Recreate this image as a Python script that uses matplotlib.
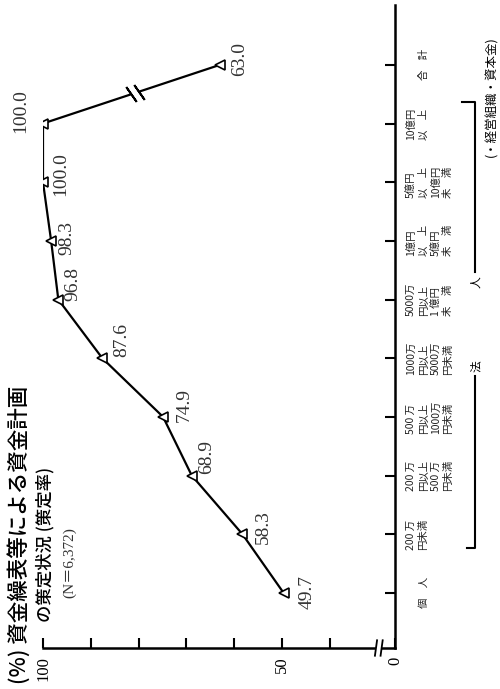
import numpy as np
import matplotlib.pyplot as plt
from matplotlib.lines import Line2D

# 経営組織・資本金別 資金計画の策定率 (%)
cat_labels = [
    '\n個　人',
    '200 万\n円未満',
    '200 万\n円以上\n500 万\n円未満',
    '500 万\n円以上\n1000万\n円未満',
    '1000万\n円以上\n5000万\n円未満',
    '5000万\n円以上\n1 億円\n未　満',
    '1億円\n以　上\n5億円\n未　満',
    '5億円\n以　上\n10億円\n未　満',
    '10億円\n以　上',
    '\n合　計',
]
rate = [49.7, 58.3, 68.9, 74.9, 87.6, 96.8, 98.3, 100.0, 100.0, 63.0]
value_ticks = [100, 90, 80, 70, 60, 50, 40, 0]
value_ticklabels = ['100', '', '', '', '', '50', '', '0']

# label offsets in pixels (page is printed sideways)
label_offsets = [(24, 1), (21, 7), (15, 19), (21, 12), (19, 18),
                 (15, 16), (16, 3), (18, 8), (-22, 12), (20, 6)]

W, H = 500, 689
jp = ['Noto Sans CJK JP', 'DejaVu Sans']
serif = ['Liberation Serif', 'Noto Sans CJK JP']


def fx(x):
    return x / W


def fy(y):
    return 1 - y / H


# axis broken below 40 %
def fwd(v):
    v = np.asarray(v, dtype=float)
    return np.where(v >= 40, v, 40 - (40 - v) * 0.34)


def inv(u):
    u = np.asarray(u, dtype=float)
    return np.where(u >= 40, u, 40 - (40 - u) / 0.34)


fig = plt.figure(figsize=(W / 100, H / 100), dpi=100)
ax = fig.add_axes([fx(43), 41 / H, 352 / W, 643 / H])
ax.set_xscale('function', functions=(fwd, inv))

ypos = np.arange(len(rate))
ax.plot(rate, ypos, '-', color='black', lw=1.6, marker='<', ms=7,
        mfc='white', mec='black', mew=1.2, zorder=3)

for v, yy, (dx, dy) in zip(rate, ypos, label_offsets):
    ax.annotate(f'{v:.1f}', (v, yy), xytext=(dx, dy), textcoords='offset pixels',
                rotation=90, ha='center', va='center', fontsize=14,
                family=serif, color='#333333')

# break mark on the line to 合計
t = np.array([0.50, 0.545])
bx = rate[8] + (rate[9] - rate[8]) * t
by = ypos[8] + (ypos[9] - ypos[8]) * t
ax.plot(bx, by, color='white', lw=3.5, zorder=4, solid_capstyle='butt')
ax.plot(bx, by, ls='none', marker=(2, 2, 35), ms=13, mec='black', mew=1.4, zorder=5)

ax.set_xlim(100, 0)
ax.set_ylim(-0.94, 10.02)
ax.set_xticks(value_ticks)
ax.set_xticklabels(value_ticklabels, rotation=90, family=serif, fontsize=12)
ax.set_yticks(ypos)
ax.set_yticklabels(cat_labels, rotation=90, family=jp, fontsize=7.5,
                   va='center', ha='left', linespacing=1.3, color='#222222')
ax.yaxis.tick_right()
ax.tick_params(axis='x', direction='in', length=7, width=1.5, pad=6)
ax.tick_params(axis='y', direction='in', length=7, width=1.5, pad=8)
for s in ['top', 'left']:
    ax.spines[s].set_visible(False)
for s in ['bottom', 'right']:
    ax.spines[s].set_linewidth(1.8)

# break mark on the value axis
ax.plot([0.946, 0.962], [0, 0], transform=ax.transAxes, color='white',
        lw=4, clip_on=False, zorder=6, solid_capstyle='butt')
for x0 in [0.946, 0.962]:
    ax.plot([x0 - 0.003, x0 + 0.003], [-0.012, 0.012], transform=ax.transAxes,
            color='black', lw=1.3, clip_on=False, zorder=7)

# title (reads bottom to top)
fig.text(fx(19), fy(684), '(%) 資金繰表等による資金計画', rotation=90,
         ha='center', va='bottom', fontsize=15.5, family=jp, weight='medium')
fig.text(fx(45), fy(622), 'の策定状況 (策定率)', rotation=90,
         ha='center', va='bottom', fontsize=12.5, family=jp, weight='medium')
fig.text(fx(70), fy(598), '(N＝6,372)', rotation=90,
         ha='center', va='bottom', fontsize=11, family=serif, color='#333333')

# 法人 bracket
bk = dict(color='black', lw=1.5, transform=fig.transFigure)
fig.add_artist(Line2D([fx(462), fx(475), fx(475)], [fy(102), fy(102), fy(272)], **bk))
fig.add_artist(Line2D([fx(475), fx(475), fx(467)], [fy(376), fy(548), fy(548)], **bk))
fig.text(fx(476), fy(282), '人', rotation=90, ha='center', va='center',
         fontsize=8.5, family=jp)
fig.text(fx(476), fy(366), '法', rotation=90, ha='center', va='center',
         fontsize=8.5, family=jp)
fig.text(fx(492), fy(97), '(・経営組織・資本金)', rotation=90, ha='center',
         va='center', fontsize=9, family=jp)

fig.savefig('out.png', dpi=100)
